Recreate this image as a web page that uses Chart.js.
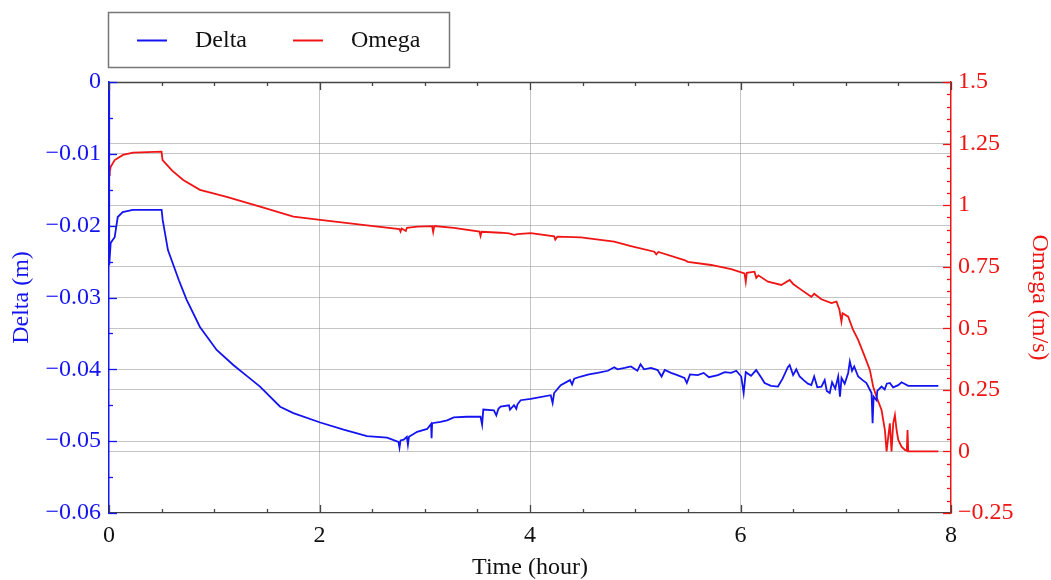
<!DOCTYPE html>
<html><head><meta charset="utf-8">
<script src="https://cdn.jsdelivr.net/npm/chart.js@4/dist/chart.umd.min.js"></script>
<style>html,body{margin:0;padding:0;background:#fff;}#wrap{width:1051px;height:580px;}</style>
</head><body><div id="wrap"><canvas id="c" width="1051" height="580"></canvas></div>
<script>
const seriesNames = ['Delta', 'Omega'];
const xTitle = 'Time (hour)';
const deltaTitle = 'Delta (m)';
const omegaTitle = 'Omega (m/s)';
const xTickValues = [0, 2, 4, 6, 8];
const deltaTickValues = [0, -0.01, -0.02, -0.03, -0.04, -0.05, -0.06];
const omegaTickValues = [1.5, 1.25, 1, 0.75, 0.5, 0.25, 0, -0.25];

const deltaTime = [0,0.002,0.016,0.035,0.054,0.083,0.13,0.226,0.50,0.51,0.56,0.664,0.737,0.864,1.023,1.181,1.30,1.435,1.626,1.752,2.007,2.229,2.451,2.642,2.75,2.76,2.77,2.80,2.83,2.84,2.85,2.928,3.023,3.06,3.065,3.07,3.15,3.213,3.276,3.40,3.53,3.545,3.556,3.657,3.68,3.70,3.721,3.80,3.81,3.848,3.87,3.88,3.911,4.007,4.197,4.215,4.229,4.292,4.38,4.40,4.42,4.483,4.56,4.642,4.74,4.80,4.832,4.90,4.959,5.02,5.05,5.083,5.15,5.213,5.25,5.28,5.340,5.40,5.467,5.49,5.52,5.594,5.65,5.70,5.785,5.85,5.911,5.96,6.007,6.03,6.05,6.10,6.149,6.20,6.229,6.29,6.356,6.40,6.45,6.467,6.50,6.53,6.562,6.60,6.64,6.673,6.70,6.73,6.769,6.80,6.82,6.848,6.87,6.90,6.928,6.945,6.96,6.99,7.023,7.039,7.06,7.08,7.118,7.16,7.197,7.245,7.255,7.265,7.292,7.30,7.340,7.37,7.39,7.419,7.45,7.499,7.53,7.594,7.88];
const deltaValue = [0,-0.0255,-0.0224,-0.0220,-0.0216,-0.0188,-0.0181,-0.0178,-0.0178,-0.0192,-0.0234,-0.0276,-0.0303,-0.0341,-0.0373,-0.0394,-0.0408,-0.0424,-0.0452,-0.0461,-0.0474,-0.0484,-0.0493,-0.0495,-0.0501,-0.0509,-0.0499,-0.0498,-0.0494,-0.0505,-0.0494,-0.0487,-0.0483,-0.0476,-0.0496,-0.0475,-0.0473,-0.0471,-0.0467,-0.0466,-0.0466,-0.0477,-0.0456,-0.0457,-0.0464,-0.0455,-0.0452,-0.0450,-0.0456,-0.0450,-0.0455,-0.0449,-0.0443,-0.0441,-0.0436,-0.0447,-0.0433,-0.0422,-0.0415,-0.0421,-0.0413,-0.0410,-0.0407,-0.0405,-0.0402,-0.0397,-0.0400,-0.0398,-0.0396,-0.0402,-0.0393,-0.0400,-0.0398,-0.0401,-0.0410,-0.0401,-0.0405,-0.0408,-0.0412,-0.0419,-0.0407,-0.0408,-0.0405,-0.0411,-0.0408,-0.0404,-0.0405,-0.0402,-0.0410,-0.0433,-0.0404,-0.0409,-0.0401,-0.0412,-0.0419,-0.0423,-0.0424,-0.0413,-0.0397,-0.0394,-0.0408,-0.0400,-0.0410,-0.0415,-0.0420,-0.0422,-0.0410,-0.0425,-0.0424,-0.0415,-0.0430,-0.0433,-0.0418,-0.0427,-0.0410,-0.0438,-0.0412,-0.0420,-0.0405,-0.0389,-0.0402,-0.0396,-0.0410,-0.0415,-0.0419,-0.0433,-0.0475,-0.0438,-0.0443,-0.0430,-0.0424,-0.0428,-0.0420,-0.0419,-0.0425,-0.0422,-0.0418,-0.0423,-0.0423];

const omegaTime = [0,0.007,0.016,0.054,0.133,0.229,0.499,0.509,0.60,0.705,0.864,1.118,1.435,1.752,2.007,2.451,2.76,2.77,2.78,2.82,2.83,2.928,3.07,3.08,3.09,3.276,3.52,3.53,3.54,3.721,3.80,3.85,3.88,4.007,4.23,4.24,4.26,4.483,4.80,4.959,5.181,5.20,5.22,5.467,5.50,5.721,5.911,6.038,6.05,6.06,6.133,6.15,6.17,6.261,6.388,6.467,6.50,6.578,6.673,6.70,6.769,6.864,6.912,6.94,6.959,6.97,7.023,7.07,7.118,7.181,7.229,7.261,7.292,7.340,7.372,7.388,7.404,7.419,7.435,7.451,7.467,7.483,7.499,7.53,7.562,7.58,7.587,7.594,7.88];
const omegaValue = [1.122,1.136,1.156,1.183,1.204,1.213,1.217,1.183,1.140,1.102,1.062,1.034,0.994,0.953,0.940,0.918,0.903,0.893,0.905,0.895,0.908,0.913,0.915,0.891,0.915,0.908,0.893,0.875,0.892,0.888,0.885,0.879,0.882,0.886,0.873,0.860,0.872,0.869,0.852,0.834,0.811,0.800,0.810,0.777,0.770,0.757,0.740,0.723,0.689,0.725,0.730,0.705,0.715,0.689,0.676,0.696,0.680,0.656,0.628,0.640,0.618,0.602,0.608,0.575,0.527,0.561,0.547,0.493,0.453,0.385,0.331,0.263,0.222,0.168,0.087,0,0.06,0.114,0,0.114,0.148,0.087,0.047,0.019,0.006,0.003,0.087,0,0];

const BLUE = '#1414f0', RED = '#f01414';
const FONT = 'Liberation Serif, Times New Roman, serif';
const fmt = v => (v < 0 ? '\u2212' : '') + String(Math.abs(v));
const gridCol = 'rgba(150,150,150,0.55)';

const frame = {
  id: 'frame',
  afterDraw(chart) {
    const ctx = chart.ctx, a = chart.chartArea;
    const xs = chart.scales.x, yl = chart.scales.y, yr = chart.scales.y1;
    ctx.save();
    ctx.lineWidth = 1.3;
    // top border
    ctx.strokeStyle = '#444';
    ctx.beginPath(); ctx.moveTo(a.left, a.top + 0.5); ctx.lineTo(a.right, a.top + 0.5); ctx.stroke();
    // x ticks
    for (let v = 0; v <= 8.001; v += 0.5) {
      const p = Math.round(xs.getPixelForValue(v)) + 0.5;
      const L = (Math.abs(v % 2) < 1e-6) ? 8 : 4;
      ctx.beginPath(); ctx.moveTo(p, a.top); ctx.lineTo(p, a.top + L);
      ctx.moveTo(p, a.bottom); ctx.lineTo(p, a.bottom - L); ctx.stroke();
    }
    // left ticks
    ctx.strokeStyle = BLUE;
    for (let i = 0; i <= 12; i++) {
      const v = -0.005 * i;
      const p = Math.round(yl.getPixelForValue(v)) + 0.5;
      const L = i % 2 === 0 ? 8 : 4;
      ctx.beginPath(); ctx.moveTo(a.left, p); ctx.lineTo(a.left + L, p); ctx.stroke();
    }
    // right ticks
    ctx.strokeStyle = RED;
    for (let i = 0; i <= 35; i++) {
      const v = -0.25 + 0.05 * i;
      const p = Math.round(yr.getPixelForValue(v)) + 0.5;
      const L = i % 5 === 0 ? 8 : 4;
      ctx.beginPath(); ctx.moveTo(a.right, p); ctx.lineTo(a.right - L, p); ctx.stroke();
    }
    // legend box
    ctx.strokeStyle = '#777'; ctx.lineWidth = 1.5;
    ctx.strokeRect(108.5, 12.5, 341, 55);
    const ds = chart.data.datasets;
    const entries = [[137, 195], [293, 351]];
    ctx.font = '24px ' + FONT; ctx.textBaseline = 'middle'; ctx.fillStyle = '#111';
    ds.forEach((d, i) => {
      const [lx, tx] = entries[i];
      ctx.strokeStyle = d.borderColor; ctx.lineWidth = 2;
      ctx.beginPath(); ctx.moveTo(lx, 40.5); ctx.lineTo(lx + 30, 40.5); ctx.stroke();
      ctx.fillText(d.label, tx, 41);
    });
    ctx.restore();
  }
};

new Chart(document.getElementById('c'), {
  type: 'line',
  data: {
    datasets: [
      { label: seriesNames[0], data: deltaTime.map((t, i) => ({x: t, y: deltaValue[i]})), yAxisID: 'y', borderColor: BLUE, backgroundColor: BLUE, borderWidth: 1.8, pointRadius: 0, tension: 0 },
      { label: seriesNames[1], data: omegaTime.map((t, i) => ({x: t, y: omegaValue[i]})), yAxisID: 'y1', borderColor: RED, backgroundColor: RED, borderWidth: 1.8, pointRadius: 0, tension: 0 }
    ]
  },
  options: {
    responsive: false, animation: false, devicePixelRatio: 1,
    layout: { padding: { top: 82, left: 0, right: 0, bottom: 0 } },
    plugins: { legend: { display: false }, tooltip: { enabled: false } },
    scales: {
      x: {
        type: 'linear', position: 'bottom', min: 0, max: 8,
        afterBuildTicks: s => { s.ticks = xTickValues.map(v => ({value: v})); },
        afterFit: s => { s.height = 67; },
        ticks: { color: '#111', font: { family: FONT, size: 24 }, padding: 8, callback: v => fmt(v), maxRotation: 0 },
        grid: { drawTicks: false, color: c => (c.tick && c.tick.value > 0 && c.tick.value < 8) ? gridCol : 'rgba(0,0,0,0)', borderDash: [2, 2] },
        border: { display: true, color: '#444', width: 1.3 },
        title: { display: true, text: xTitle, color: '#111', font: { family: FONT, size: 24, lineHeight: 1 }, padding: { top: 0, bottom: 0 } }
      },
      y: {
        type: 'linear', position: 'left', min: -0.06, max: 0,
        afterBuildTicks: s => { s.ticks = deltaTickValues.map(v => ({value: v})); },
        afterFit: s => { s.width = 109; },
        ticks: { color: BLUE, font: { family: FONT, size: 24 }, padding: 8, callback: v => fmt(v) },
        grid: { drawTicks: false, color: c => (c.tick && c.tick.value < 0 && c.tick.value > -0.06) ? gridCol : 'rgba(0,0,0,0)' },
        border: { display: true, color: BLUE, width: 1.5, dash: [] },
        title: { display: true, text: deltaTitle, color: BLUE, font: { family: FONT, size: 24, lineHeight: 1 }, padding: { top: 10, bottom: 0 } }
      },
      y1: {
        type: 'linear', position: 'right', min: -0.25, max: 1.5,
        afterBuildTicks: s => { s.ticks = omegaTickValues.map(v => ({value: v})); },
        afterFit: s => { s.width = 100; },
        ticks: { color: RED, font: { family: FONT, size: 24 }, padding: 7, callback: v => fmt(v) },
        grid: { drawTicks: false, color: c => (c.tick && c.tick.value > -0.25 && c.tick.value < 1.5) ? gridCol : 'rgba(0,0,0,0)' },
        border: { display: true, color: RED, width: 1.5 },
        title: { display: true, text: omegaTitle, color: RED, font: { family: FONT, size: 24, lineHeight: 1 }, padding: { top: 0, bottom: 0 } }
      }
    }
  },
  plugins: [frame]
});
</script>
</body></html>
